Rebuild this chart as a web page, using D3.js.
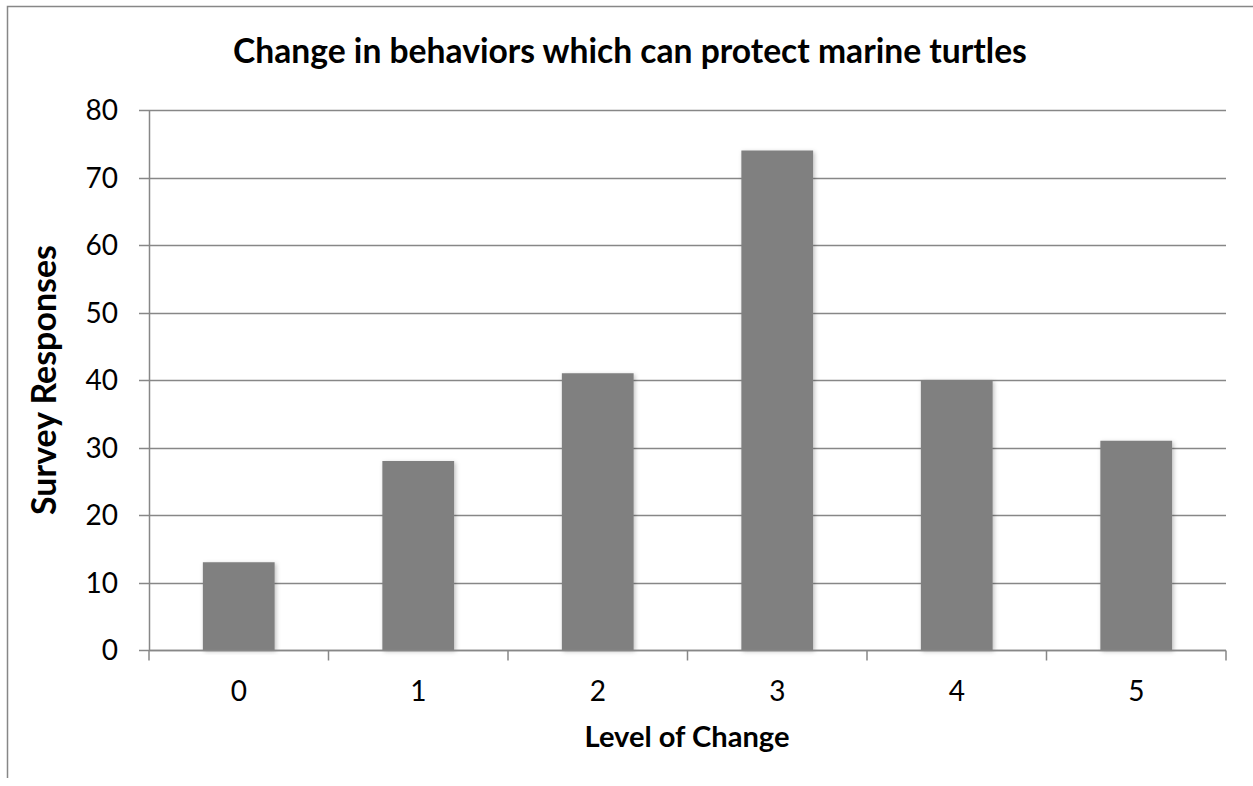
<!DOCTYPE html>
<html>
<head>
<meta charset="utf-8">
<script src="https://cdn.jsdelivr.net/npm/d3@7"></script>
<style>
  body { margin: 0; background: #fff; }
  text { font-family: Lato, "Open Sans", sans-serif; fill: #000; }
</style>
</head>
<body>
<div id="chart"></div>
<script>
var levels = ["0", "1", "2", "3", "4", "5"];
var responses = [13, 28, 41, 74, 40, 31];
var yTicks = [0, 10, 20, 30, 40, 50, 60, 70, 80];

var width = 1253;
var height = 786;
var margin = { top: 110, right: 27, bottom: 136, left: 149 };
var gridColor = "#878787";

var svg = d3.select("#chart").append("svg")
  .attr("width", width)
  .attr("height", height);

// soft shadow like the office chart
var defs = svg.append("defs");
defs.append("filter").attr("id", "shadow")
  .attr("x", "-20%").attr("y", "-5%").attr("width", "140%").attr("height", "110%")
  .append("feDropShadow")
  .attr("dx", 1.5).attr("dy", 1.5).attr("stdDeviation", 2)
  .attr("flood-color", "#000").attr("flood-opacity", 0.25);

// outer chart border (only left/top visible in the crop)
svg.append("path")
  .attr("d", "M7.5," + (height - 8) + "V6.5H" + width)
  .attr("fill", "none")
  .attr("stroke", gridColor)
  .attr("stroke-width", 1.5);

var x = d3.scaleBand()
  .domain(levels)
  .range([margin.left, width - margin.right])
  .paddingInner(0.6)
  .paddingOuter(0.3);

var y = d3.scaleLinear()
  .domain([0, 80])
  .range([height - margin.bottom, margin.top]);

// gridlines
svg.append("g")
  .selectAll("line")
  .data(yTicks)
  .enter()
  .append("line")
  .attr("x1", margin.left - 10)
  .attr("x2", width - margin.right)
  .attr("y1", function (d) { return Math.round(y(d)) + 0.5; })
  .attr("y2", function (d) { return Math.round(y(d)) + 0.5; })
  .attr("stroke", gridColor)
  .attr("stroke-width", 1.5);

// y axis line + labels
svg.append("line")
  .attr("x1", margin.left + 0.5).attr("x2", margin.left + 0.5)
  .attr("y1", y(80)).attr("y2", y(0))
  .attr("stroke", gridColor).attr("stroke-width", 1.5);

svg.append("g")
  .selectAll("text")
  .data(yTicks)
  .enter()
  .append("text")
  .attr("x", margin.left - 31)
  .attr("y", function (d) { return y(d); })
  .attr("dy", "0.36em")
  .attr("text-anchor", "end")
  .style("font-size", "28px")
  .text(function (d) { return d; });

// bars
svg.append("g")
  .selectAll("rect")
  .data(responses)
  .enter()
  .append("rect")
  .attr("x", function (d, i) { return x(levels[i]); })
  .attr("y", function (d) { return y(d); })
  .attr("width", x.bandwidth())
  .attr("height", function (d) { return y(0) - y(d); })
  .attr("fill", "#808080")
  .attr("filter", "url(#shadow)");

// x axis line, ticks between categories
var y0 = Math.round(y(0)) + 0.5;
svg.append("line")
  .attr("x1", margin.left).attr("x2", width - margin.right)
  .attr("y1", y0).attr("y2", y0)
  .attr("stroke", gridColor).attr("stroke-width", 1.5);

var bounds = d3.range(levels.length + 1).map(function (i) {
  return margin.left + i * (width - margin.left - margin.right) / levels.length;
});
svg.append("g")
  .selectAll("line")
  .data(bounds)
  .enter()
  .append("line")
  .attr("x1", function (d) { return d; })
  .attr("x2", function (d) { return d; })
  .attr("y1", y0)
  .attr("y2", y0 + 10)
  .attr("stroke", gridColor)
  .attr("stroke-width", 1.5);

svg.append("g")
  .selectAll("text")
  .data(levels)
  .enter()
  .append("text")
  .attr("x", function (d) { return x(d) + x.bandwidth() / 2; })
  .attr("y", 701)
  .attr("text-anchor", "middle")
  .style("font-size", "28px")
  .text(function (d) { return d; });

// titles, sized to match the original widths
function fitText(sel, target) {
  var w = sel.node().getComputedTextLength();
  var fs = parseFloat(sel.style("font-size"));
  sel.style("font-size", (fs * target / w) + "px");
}

var title = svg.append("text")
  .attr("x", 630)
  .attr("y", 63)
  .attr("text-anchor", "middle")
  .style("font-size", "32px")
  .style("font-weight", "bold")
  .text("Change in behaviors which can protect marine turtles");
fitText(title, 794);

var xTitle = svg.append("text")
  .attr("x", 687)
  .attr("y", 747)
  .attr("text-anchor", "middle")
  .style("font-size", "22px")
  .style("font-weight", "bold")
  .text("Level of Change");
fitText(xTitle, 205);

var yTitle = svg.append("text")
  .attr("transform", "translate(56," + ((y(0) + y(80)) / 2) + ") rotate(-90)")
  .attr("text-anchor", "middle")
  .style("font-size", "22px")
  .style("font-weight", "bold")
  .text("Survey Responses");
fitText(yTitle, 270);
</script>
</body>
</html>
